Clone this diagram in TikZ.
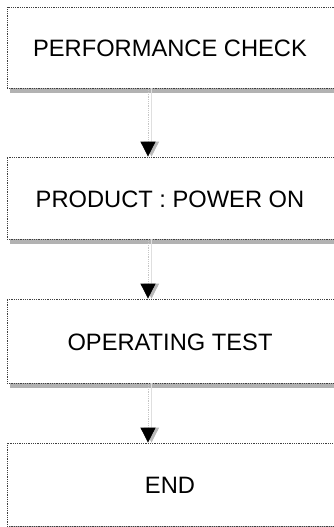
\documentclass[tikz,border=0pt]{standalone}
\usepackage{fontspec}
\setmainfont{Liberation Sans}
\usetikzlibrary{arrows.meta,shadows}

\tikzset{
  stepbox/.style={draw=gray!50!black, densely dotted, line width=0.8pt, fill=white,
    minimum width=340pt, inner sep=0pt,
    drop shadow={shadow xshift=3pt, shadow yshift=-5pt, fill=gray!60, opacity=1}},
  steptext/.style={font=\fontsize{23.7}{28}\selectfont, xshift=-7pt, yshift=-1pt},
  flow/.style={gray!45, densely dotted, line width=0.8pt, -{Triangle[length=15pt,width=15pt,black]}},
  flowshadow/.style={gray!25, line width=0.8pt, -{Triangle[length=15pt,width=15pt,gray!55]}}
}

\begin{document}
\begin{tikzpicture}[x=1pt,y=-1pt]
  \fill[white] (0,0) rectangle (333,527);
  \useasboundingbox (0,0) rectangle (333,527);
  \coordinate (axis) at (148,0);
  \coordinate (axisshadow) at (151.5,0);
  \node[stepbox, minimum height=81pt, label={[steptext]center:PERFORMANCE CHECK}] (check) at (177,47.5) {};
  \node[stepbox, minimum height=82pt, label={[steptext]center:PRODUCT : POWER ON}] (power) at (177,198) {};
  \node[stepbox, minimum height=84pt, label={[steptext]center:OPERATING TEST}] (operate) at (177,341) {};
  \node[stepbox, minimum height=83pt, label={[steptext]center:END}] (finish) at (177,484.5) {};
  \draw[flowshadow] (check.south -| axisshadow) -- (power.north -| axisshadow);
  \draw[flowshadow] (power.south -| axisshadow) -- (operate.north -| axisshadow);
  \draw[flowshadow] (operate.south -| axisshadow) -- (finish.north -| axisshadow);
  \draw[flow] (check.south -| axis) -- (power.north -| axis);
  \draw[flow] (power.south -| axis) -- (operate.north -| axis);
  \draw[flow] (operate.south -| axis) -- (finish.north -| axis);
\end{tikzpicture}
\end{document}
